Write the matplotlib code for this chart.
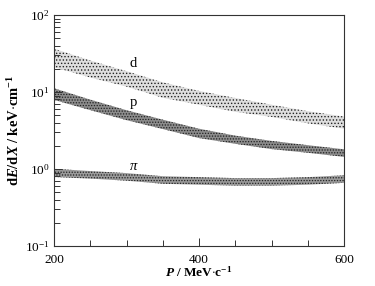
import matplotlib
matplotlib.use("Agg")
import matplotlib.pyplot as plt
from matplotlib.ticker import LogLocator, MultipleLocator, NullFormatter
import numpy as np

plt.rcParams['font.family'] = ['Liberation Serif', 'DejaVu Serif']
plt.rcParams['mathtext.fontset'] = 'custom'
plt.rcParams['mathtext.rm'] = 'Liberation Serif'
plt.rcParams['mathtext.it'] = 'Liberation Serif:italic'
plt.rcParams['mathtext.bf'] = 'Liberation Serif:bold'
plt.rcParams['mathtext.bfit'] = 'Liberation Serif:bold:italic'
plt.rcParams['hatch.linewidth'] = 0.6

# momentum samples (MeV/c)
momentum = [200, 250, 300, 350, 400, 450, 500, 550, 600]

# band centres of dE/dX (keV/cm)
dedx_d = [27.7, 19.9, 14.8, 10.6, 8.4, 6.8, 5.7, 4.7, 4.0]
dedx_p = [9.4, 6.8, 5.0, 3.8, 2.9, 2.4, 2.05, 1.82, 1.61]
dedx_pi = [0.89, 0.84, 0.79, 0.72, 0.70, 0.68, 0.68, 0.70, 0.74]

# band spread (multiplicative factor around the centre)
spread_d = [1.32, 1.29, 1.26, 1.26, 1.23, 1.23, 1.20, 1.20, 1.20]
spread_p = [1.19, 1.17, 1.16, 1.15, 1.15, 1.13, 1.13, 1.12, 1.12]
spread_pi = [1.13, 1.12, 1.12, 1.12, 1.12, 1.12, 1.12, 1.12, 1.12]

labels = ['d', 'p', r'$\pi$']
label_pos = [(309, 23.8), (309, 7.2), (310, 1.09)]

fig = plt.figure(figsize=(3.75, 2.86), dpi=100)
ax = fig.add_axes([54/375, 1-246/286, 290/375, 231/286])

bands = [(dedx_d, spread_d, '#dedede', '.....'),
         (dedx_p, spread_p, '#8c8c8c', '......'),
         (dedx_pi, spread_pi, '#9a9a9a', '......')]
x = np.array(momentum)
for centre, spread, fc, hatch in bands:
    c = np.array(centre)
    s = np.array(spread)
    ax.fill_between(x, c / s, c * s, facecolor=fc, edgecolor='#222222',
                    hatch=hatch, linewidth=0)

for txt, (px, py) in zip(labels, label_pos):
    ax.text(px, py, txt, fontsize=10.5, ha='center', va='center')

ax.set_yscale('log')
ax.set_xlim(200, 600)
ax.set_ylim(0.1, 100)
ax.xaxis.set_major_locator(MultipleLocator(200))
ax.xaxis.set_minor_locator(MultipleLocator(50))
ax.yaxis.set_major_locator(LogLocator(base=10))
ax.yaxis.set_minor_locator(LogLocator(base=10, subs=np.arange(2, 10)))
ax.yaxis.set_minor_formatter(NullFormatter())

ax.tick_params(which='both', direction='in', top=False, right=False,
               labelsize=9.5, color='#333333', width=0.7)
ax.tick_params(which='major', length=6, pad=3)
ax.tick_params(axis='x', which='major', pad=6)
ax.tick_params(which='minor', length=4)
for sp in ax.spines.values():
    sp.set_linewidth(0.8)
    sp.set_color('#333333')

ax.set_xlabel(r'$\mathbfit{P}\mathbf{\ /\ MeV{\cdot}c^{-1}}$', fontsize=9.5, labelpad=-1)
ax.set_ylabel(r'$\mathbf{d}\mathbfit{E}\mathbf{/d}\mathbfit{X}\mathbf{\ /\ keV{\cdot}cm^{-1}}$',
              fontsize=10.5, labelpad=2)

fig.savefig('out.png', dpi=100)
